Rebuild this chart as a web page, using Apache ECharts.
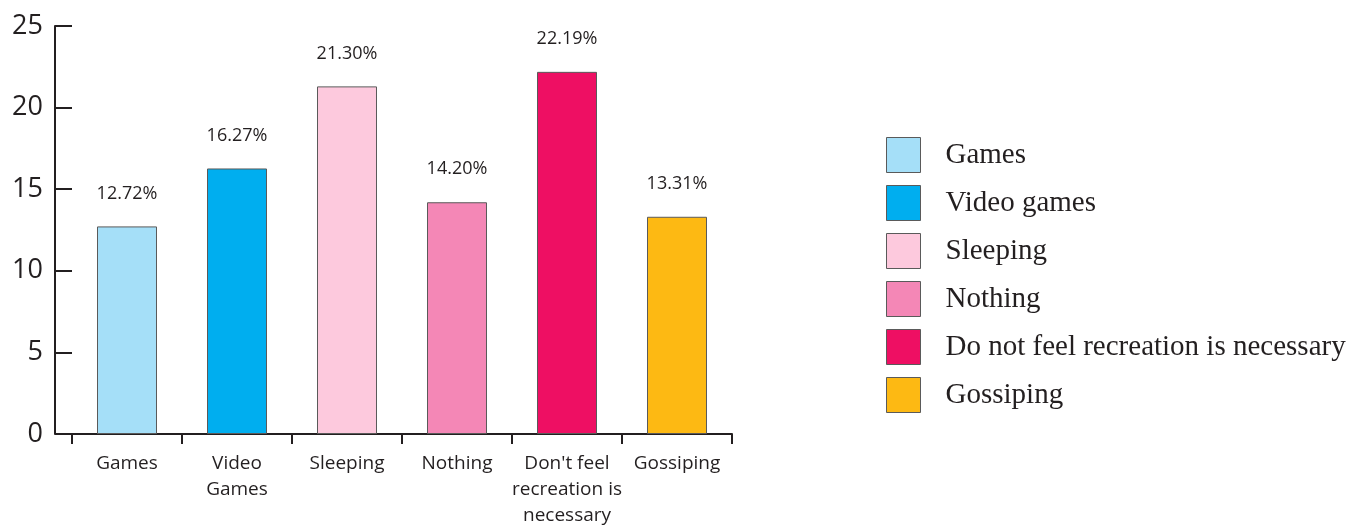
<!DOCTYPE html>
<html>
<head>
<meta charset="utf-8">
<script src="https://cdn.jsdelivr.net/npm/echarts@6/dist/echarts.min.js"></script>
<style>
  html, body { margin: 0; padding: 0; background: #fff; }
  #chart { width: 1353px; height: 527px; }
</style>
</head>
<body>
<div id="chart"></div>
<script>
  // 类目 / 数值
  var categories = ['Games', 'Video\nGames', 'Sleeping', 'Nothing', "Don't feel\nrecreation is\nnecessary", 'Gossiping']
  var legendNames = ['Games', 'Video games', 'Sleeping', 'Nothing', 'Do not feel recreation is necessary', 'Gossiping']
  var values = [12.72, 16.27, 21.30, 14.20, 22.19, 13.31]
  var colors = ['#a5dff8', '#00aeef', '#fdc9dd', '#f487b6', '#ee0f63', '#fdb913']

  var ink = '#231f20'
  var chart = echarts.init(document.getElementById('chart'))

  var series = legendNames.map(function (name, i) {
    return {
      name: name,
      type: 'bar',
      stack: 'all',
      barWidth: 60,
      data: values.map(function (v, j) { return j === i ? v : '-' }),
      itemStyle: { color: colors[i], borderColor: '#5a5a5a', borderWidth: 1 },
      label: {
        show: true,
        position: 'top',
        distance: 24,
        color: ink,
        fontFamily: 'Open Sans',
        fontSize: 18,
        formatter: function (p) { return p.value.toFixed(2) + '%' }
      }
    }
  })

  var option = {
    animation: false,
    grid: { left: 72, width: 660, top: 26, height: 408, outerBoundsMode: 'none' },
    legend: {
      orient: 'vertical',
      left: 881,
      top: 132,
      itemWidth: 34,
      itemHeight: 35,
      itemGap: 12,
      icon: 'rect',
      itemStyle: { borderColor: '#5a5a5a', borderWidth: 1 },
      textStyle: {
        fontFamily: 'Liberation Serif',
        fontSize: 29,
        color: ink,
        padding: [0, 0, 0, 20]
      },
      data: legendNames
    },
    xAxis: {
      type: 'category',
      data: categories,
      axisLine: { lineStyle: { color: ink, width: 2 } },
      axisTick: { show: true, length: 10, lineStyle: { color: ink, width: 2 } },
      axisLabel: {
        interval: 0,
        margin: 17,
        color: ink,
        fontFamily: 'Open Sans',
        fontSize: 19,
        lineHeight: 26
      }
    },
    yAxis: {
      type: 'value',
      min: 0,
      max: 25,
      interval: 5,
      offset: 17,
      splitLine: { show: false },
      axisLine: { show: true, lineStyle: { color: ink, width: 2 } },
      axisTick: { show: true, inside: true, length: 17, lineStyle: { color: ink, width: 2 } },
      axisLabel: {
        margin: 12,
        color: ink,
        fontFamily: 'Open Sans',
        fontSize: 27
      }
    },
    series: series
  }
  chart.setOption(option)
</script>
</body>
</html>
